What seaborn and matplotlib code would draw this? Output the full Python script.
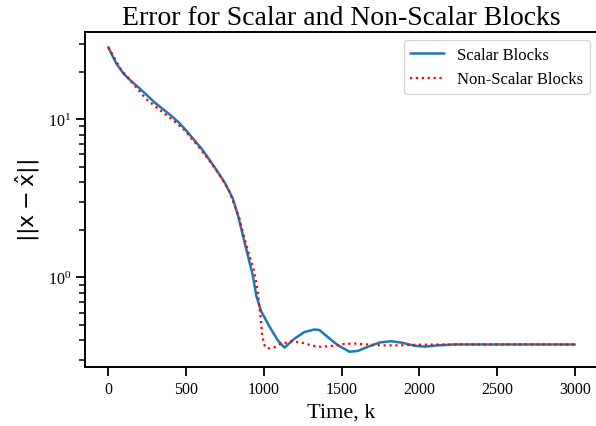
import matplotlib
matplotlib.use("Agg")
import matplotlib.pyplot as plt
import seaborn as sns
import pandas as pd

# Scalar Blocks series
x_scalar = [0, 50, 100, 150, 200, 300, 400, 450, 500, 600, 650, 700, 750, 800,
            833, 865, 897, 929, 951, 983, 1036, 1090, 1133, 1197, 1261, 1326,
            1358, 1411, 1476, 1551, 1604, 1668, 1745, 1819, 1883, 1969, 2033,
            2119, 2226, 3000]
y_scalar = [28.5, 22.6, 19.3, 17.3, 15.7, 12.7, 10.6, 9.6, 8.5, 6.5, 5.55, 4.7,
            3.95, 3.16, 2.48, 1.85, 1.38, 1.03, 0.77, 0.61, 0.49, 0.40, 0.36,
            0.41, 0.452, 0.469, 0.465, 0.42, 0.373, 0.339, 0.343, 0.364, 0.388,
            0.395, 0.388, 0.370, 0.365, 0.372, 0.377, 0.377]

# Non-Scalar Blocks series
x_nonscalar = [0, 82, 157, 243, 328, 414, 489, 586, 661, 725, 779, 843, 875,
               907, 939, 961, 972, 983, 989, 1004, 1025, 1068, 1100, 1122, 1176,
               1240, 1315, 1369, 1444, 1519, 1583, 1668, 1755, 1873, 1970, 2100,
               3000]
y_nonscalar = [28.5, 20.5, 16.9, 13.4, 11.5, 9.9, 8.55, 6.6, 5.3, 4.3, 3.5,
               2.36, 1.77, 1.38, 1.09, 0.81, 0.64, 0.52, 0.43, 0.373, 0.355,
               0.362, 0.377, 0.382, 0.395, 0.388, 0.37, 0.364, 0.37, 0.38,
               0.382, 0.377, 0.372, 0.372, 0.375, 0.377, 0.377]

labels = ["Scalar Blocks", "Non-Scalar Blocks"]
title = "Error for Scalar and Non-Scalar Blocks"
xlabel = "Time, k"
ylabel = r"$||\mathrm{x} - \hat{\mathrm{x}}||$"

sns.set_theme(style="ticks")
plt.rcParams["font.family"] = ["Liberation Serif", "DejaVu Sans"]
plt.rcParams["axes.edgecolor"] = "black"
plt.rcParams["text.color"] = "black"
plt.rcParams["xtick.color"] = "black"
plt.rcParams["ytick.color"] = "black"
plt.rcParams["axes.labelcolor"] = "black"

df_s = pd.DataFrame({"k": x_scalar, "err": y_scalar})
df_n = pd.DataFrame({"k": x_nonscalar, "err": y_nonscalar})

fig = plt.figure(figsize=(5.96, 4.27), dpi=100)
ax = fig.add_axes([0.1426, 0.1382, 0.861, 0.7845])

sns.lineplot(data=df_s, x="k", y="err", ax=ax, color="#1f77b4",
             linewidth=1.8, label=labels[0])
sns.lineplot(data=df_n, x="k", y="err", ax=ax, color="red",
             linewidth=1.6, linestyle=":", label=labels[1])

ax.set_yscale("log")
ax.set_xticks([0, 500, 1000, 1500, 2000, 2500, 3000])
ax.set_title(title, fontsize=20)
ax.set_xlabel(xlabel, fontsize=16)
ax.set_ylabel(ylabel, fontsize=16, math_fontfamily="dejavusans")

for sp in ax.spines.values():
    sp.set_linewidth(1.4)
ax.spines["right"].set_visible(False)
ax.tick_params(axis="both", which="major", labelsize=11.5, length=6.5, width=1.3)
ax.tick_params(axis="both", which="minor", length=4, width=1.1)

leg = ax.legend(loc="upper right", fontsize=12, frameon=True)
leg.get_frame().set_edgecolor("#cccccc")

fig.savefig("out.png", dpi=100)
